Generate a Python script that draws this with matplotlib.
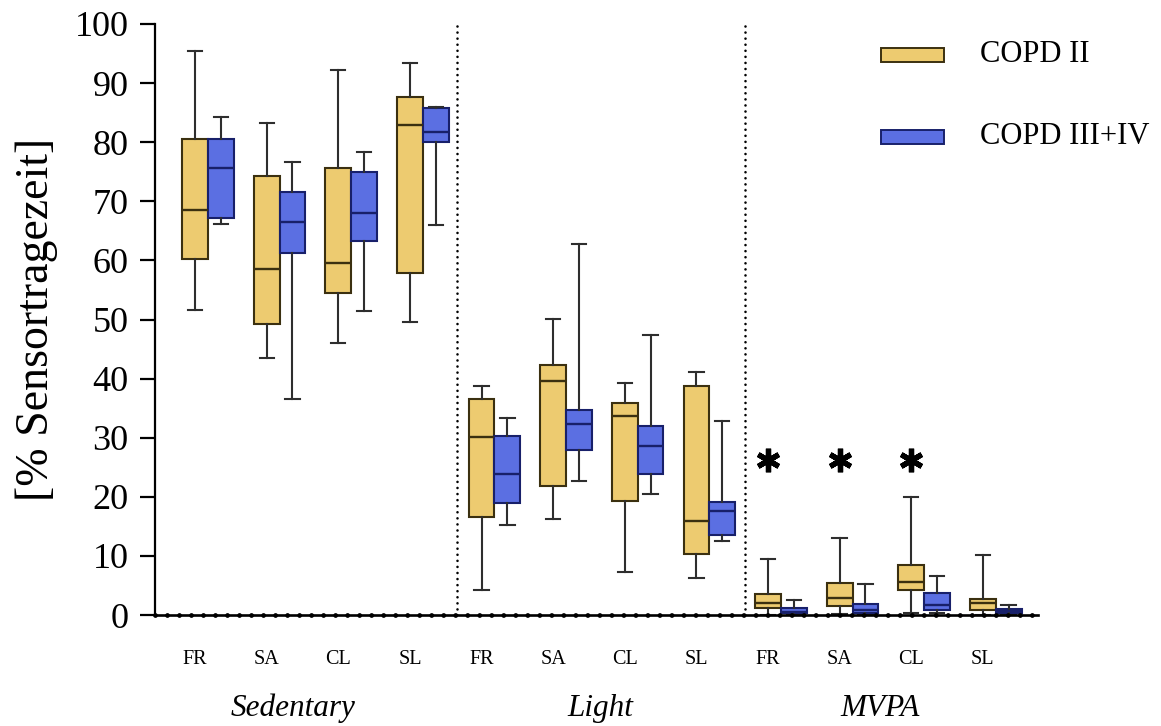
import numpy as np
import matplotlib
matplotlib.use("Agg")
import matplotlib.pyplot as plt
from matplotlib.patches import Rectangle
from matplotlib.transforms import blended_transform_factory

plt.rcParams['font.family'] = ['Liberation Serif', 'DejaVu Serif']

# Activity classes and the four domains shown within each
activities = ["Sedentary", "Light", "MVPA"]
domains = ["FR", "SA", "CL", "SL"]
groups = ["COPD II", "COPD III+IV"]

# Box statistics (% of sensor wear time), order: Sedentary FR..SL, Light FR..SL, MVPA FR..SL
copd2_whishi = [95.4, 83.2, 92.3, 93.4, 38.7, 50.1, 39.3, 41.2, 9.5, 13.1, 20.0, 10.2]
copd2_q3     = [80.5, 74.3, 75.7, 87.6, 36.5, 42.3, 35.9, 38.7, 3.5, 5.4, 8.5, 2.7]
copd2_med    = [68.5, 58.6, 59.6, 82.9, 30.1, 39.6, 33.7, 15.9, 2.1, 2.8, 5.5, 2.0]
copd2_q1     = [60.3, 49.3, 54.4, 57.8, 16.6, 21.9, 19.3, 10.4, 1.1, 1.5, 4.3, 0.8]
copd2_whislo = [51.6, 43.5, 46.1, 49.5, 4.3, 16.2, 7.2, 6.2, 0.0, 0.2, 0.4, 0.0]

copd34_whishi = [84.2, 76.6, 78.4, 86.0, 33.4, 62.8, 47.4, 32.8, 2.5, 5.2, 6.6, 1.7]
copd34_q3     = [80.6, 71.6, 75.0, 85.8, 30.3, 34.7, 31.9, 19.2, 1.1, 1.9, 3.8, 1.0]
copd34_med    = [75.7, 66.5, 68.1, 81.8, 23.8, 32.4, 28.6, 17.6, 0.5, 0.8, 1.7, 0.6]
copd34_q1     = [67.1, 61.2, 63.2, 80.0, 18.9, 28.0, 23.8, 13.5, 0.3, 0.4, 0.8, 0.3]
copd34_whislo = [66.1, 36.6, 51.5, 66.0, 15.2, 22.7, 20.5, 12.5, 0.0, 0.0, 0.3, 0.0]

# Significant group differences (index into the 12 boxes) and marker height
sig_index = [8, 9, 10]
sig_y = 26.2

yellow = "#EDCB70"
yellow_edge = "#3B3010"
blue = "#5B6FE2"
blue_edge = "#18206A"
whisk = "#2E2E2E"


def make_stats(lo, q1, med, q3, hi):
    return [dict(whislo=a, q1=b, med=c, q3=d, whishi=e)
            for a, b, c, d, e in zip(lo, q1, med, q3, hi)]


fig = plt.figure(figsize=(11.61, 7.26), dpi=100)
ax = fig.add_axes([155 / 1161, 1 - 615 / 726, (1038 - 155) / 1161, (615 - 24) / 726])

n = len(copd2_med)
pos2 = np.arange(n, dtype=float)
pos34 = pos2 + 0.36
bw = 0.36

for stats, pos, fc, ec in [
    (make_stats(copd2_whislo, copd2_q1, copd2_med, copd2_q3, copd2_whishi), pos2, yellow, yellow_edge),
    (make_stats(copd34_whislo, copd34_q1, copd34_med, copd34_q3, copd34_whishi), pos34, blue, blue_edge),
]:
    ax.bxp(stats, positions=pos, widths=bw, patch_artist=True, showfliers=False,
           capwidths=0.2,
           boxprops=dict(facecolor=fc, edgecolor=ec, linewidth=1.5),
           medianprops=dict(color=ec, linewidth=1.7),
           whiskerprops=dict(color=whisk, linewidth=1.5),
           capprops=dict(color=whisk, linewidth=1.5),
           manage_ticks=False, zorder=3)

# Significance markers
ax.plot(pos2[sig_index], [sig_y] * len(sig_index), linestyle="none",
        marker=(6, 2, 0), markersize=17, markeredgewidth=3.8, color="black", zorder=4)

ax.set_xlim(-0.56, 11.77)
ax.set_ylim(0, 100)

# Dotted separators between activity classes
for xs in [3.66, 7.68]:
    ax.plot([xs, xs], [0, 100], color="black", linewidth=1.9,
            linestyle=(0, (0.001, 2.3)), dash_capstyle="round", zorder=2)

# Baseline drawn as a solid rule with dots on it
ax.axhline(0, color="black", linewidth=1.9, zorder=6, clip_on=False)
ax.axhline(0, color="black", linewidth=3.5, linestyle=(0, (0.001, 2.47)),
           dash_capstyle="round", zorder=7, clip_on=False)

for s in ["top", "right", "bottom"]:
    ax.spines[s].set_visible(False)
ax.spines["left"].set_linewidth(1.6)

ax.set_yticks(np.arange(0, 101, 10))
ax.tick_params(axis="y", direction="out", length=11, width=1.6, pad=8, labelsize=26)
ax.set_xticks(pos2)
ax.set_xticklabels(domains * len(activities), fontsize=14.5)
ax.tick_params(axis="x", length=0, pad=25)

ax.set_ylabel("[% Sensortragezeit]", fontsize=33, labelpad=12)

trans = blended_transform_factory(ax.transData, ax.transAxes)
for xc, name in zip([1.37, 5.66, 9.57], activities):
    ax.text(xc, -0.158, name, transform=trans, ha="center", va="center",
            fontsize=22.5, style="italic")

# Legend
for (y0, y1), fc, ec, label in [((48, 62), yellow, yellow_edge, groups[0]),
                                 ((130, 144), blue, blue_edge, groups[1])]:
    fig.add_artist(Rectangle((881 / 1161, 1 - y1 / 726), 63 / 1161, (y1 - y0) / 726,
                             transform=fig.transFigure, facecolor=fc, edgecolor=ec,
                             linewidth=1.4))
    fig.text(980 / 1161, 1 - (y0 + y1) / 2 / 726, label, fontsize=22, va="center", ha="left")

fig.savefig("out.png", dpi=100)
